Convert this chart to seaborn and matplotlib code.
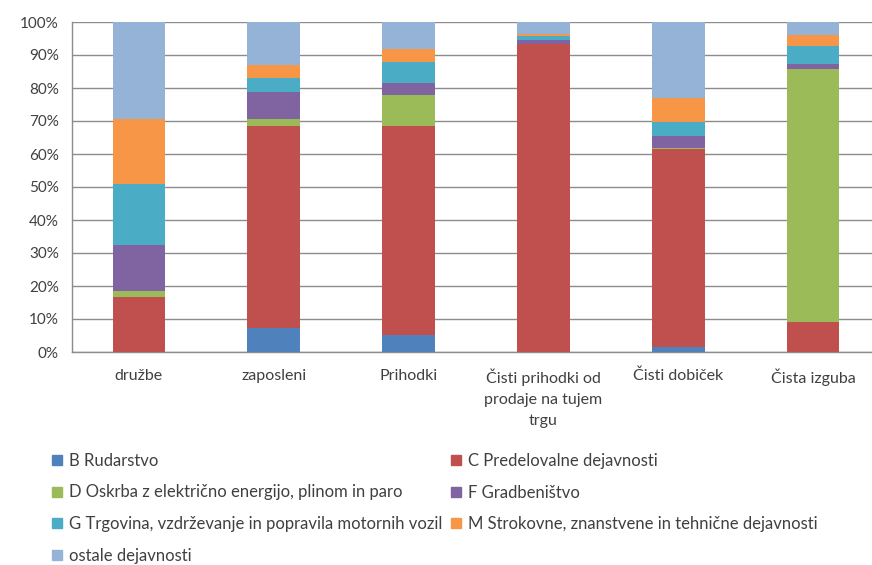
import numpy as np
import pandas as pd
import matplotlib
matplotlib.use("Agg")
import matplotlib.pyplot as plt
from matplotlib.lines import Line2D
from matplotlib.ticker import FixedLocator
import seaborn as sns

# kategorije in deleži (v %) po dejavnostih
kategorije = ["družbe", "zaposleni", "Prihodki",
              "Čisti prihodki od\nprodaje na tujem\ntrgu",
              "Čisti dobiček", "Čista izguba"]
B_rudarstvo = [0, 7.3, 5.3, 0, 1.5, 0]
C_predelovalne = [16.7, 61.1, 63.2, 93.2, 59.9, 9.1]
D_oskrba = [1.8, 2.1, 9.5, 0.2, 0.5, 76.8]
F_gradbenistvo = [14.0, 8.3, 3.6, 1.0, 3.5, 1.5]
G_trgovina = [18.5, 4.3, 6.3, 1.3, 4.3, 5.2]
M_strokovne = [19.7, 4.0, 3.9, 0.8, 7.4, 3.4]
ostale = [29.3, 12.9, 8.2, 3.5, 22.9, 4.0]

serije = ["B Rudarstvo", "C Predelovalne dejavnosti",
          "D Oskrba z električno energijo, plinom in paro", "F Gradbeništvo",
          "G Trgovina, vzdrževanje in popravila motornih vozil",
          "M Strokovne, znanstvene in tehnične dejavnosti", "ostale dejavnosti"]
barve = ["#4F81BD", "#C0504D", "#9BBB59", "#8064A2", "#4BACC6", "#F79646", "#95B3D7"]

df = pd.DataFrame({"kategorija": kategorije})
vrednosti = [B_rudarstvo, C_predelovalne, D_oskrba, F_gradbenistvo,
             G_trgovina, M_strokovne, ostale]
for ime, v in zip(serije, vrednosti):
    df[ime] = v
kum = df[serije].cumsum(axis=1)

sns.set_style("white")
plt.rcParams["font.family"] = ["Lato", "DejaVu Sans"]
siva = "#404040"

fig = plt.figure(figsize=(8.72, 5.65), dpi=100)
ax = fig.add_axes([71.5 / 872, 1 - 352 / 565, 809 / 872, 330 / 565])

# zlozeni stolpci: najprej najvisja kumulativa, nato nizje cez njo
for ime, barva in reversed(list(zip(serije, barve))):
    sns.barplot(x=df["kategorija"], y=kum[ime], color=barva, saturation=1,
                width=0.39, linewidth=0, ax=ax, zorder=3)

ax.set_ylim(0, 100)
ax.set_xlim(-0.5, 5.5)
ax.set_yticks(np.arange(0, 101, 10))
ax.set_yticklabels([f"{t}%" for t in range(0, 101, 10)])
ax.yaxis.grid(True, color="#8c8c8c", linewidth=1.0, zorder=0)
ax.set_axisbelow(True)
ax.set_xlabel("")
ax.set_ylabel("")
for s in ["top", "right"]:
    ax.spines[s].set_visible(False)
for s in ["left", "bottom"]:
    ax.spines[s].set_color("#8c8c8c")
    ax.spines[s].set_linewidth(1.0)

ax.tick_params(axis="y", length=4, color="#8c8c8c", labelsize=11, labelcolor=siva, pad=5)
ax.tick_params(axis="x", which="major", length=0, labelsize=11.5, labelcolor=siva, pad=12)
ax.xaxis.set_minor_locator(FixedLocator(np.arange(0.5, 5, 1)))
ax.tick_params(axis="x", which="minor", length=4, color="#8c8c8c")
for lab in ax.get_xticklabels():
    lab.set_linespacing(1.62)
    lab.set_verticalalignment("top")

rocaji = [Line2D([], [], marker="s", linestyle="", markersize=6.5,
                 markerfacecolor=b, markeredgecolor=b) for b in barve]
kw = dict(frameon=False, loc="upper left", borderpad=0, borderaxespad=0,
          handlelength=0.6, handletextpad=0.4, labelspacing=0.93,
          fontsize=12, labelcolor=siva)
fig.legend([rocaji[i] for i in [0, 2, 4, 6]], [serije[i] for i in [0, 2, 4, 6]],
           bbox_to_anchor=(52 / 872, 1 - 453 / 565), **kw)
fig.legend([rocaji[i] for i in [1, 3, 5]], [serije[i] for i in [1, 3, 5]],
           bbox_to_anchor=(451 / 872, 1 - 453 / 565), **kw)

fig.savefig("out.png", dpi=100)
